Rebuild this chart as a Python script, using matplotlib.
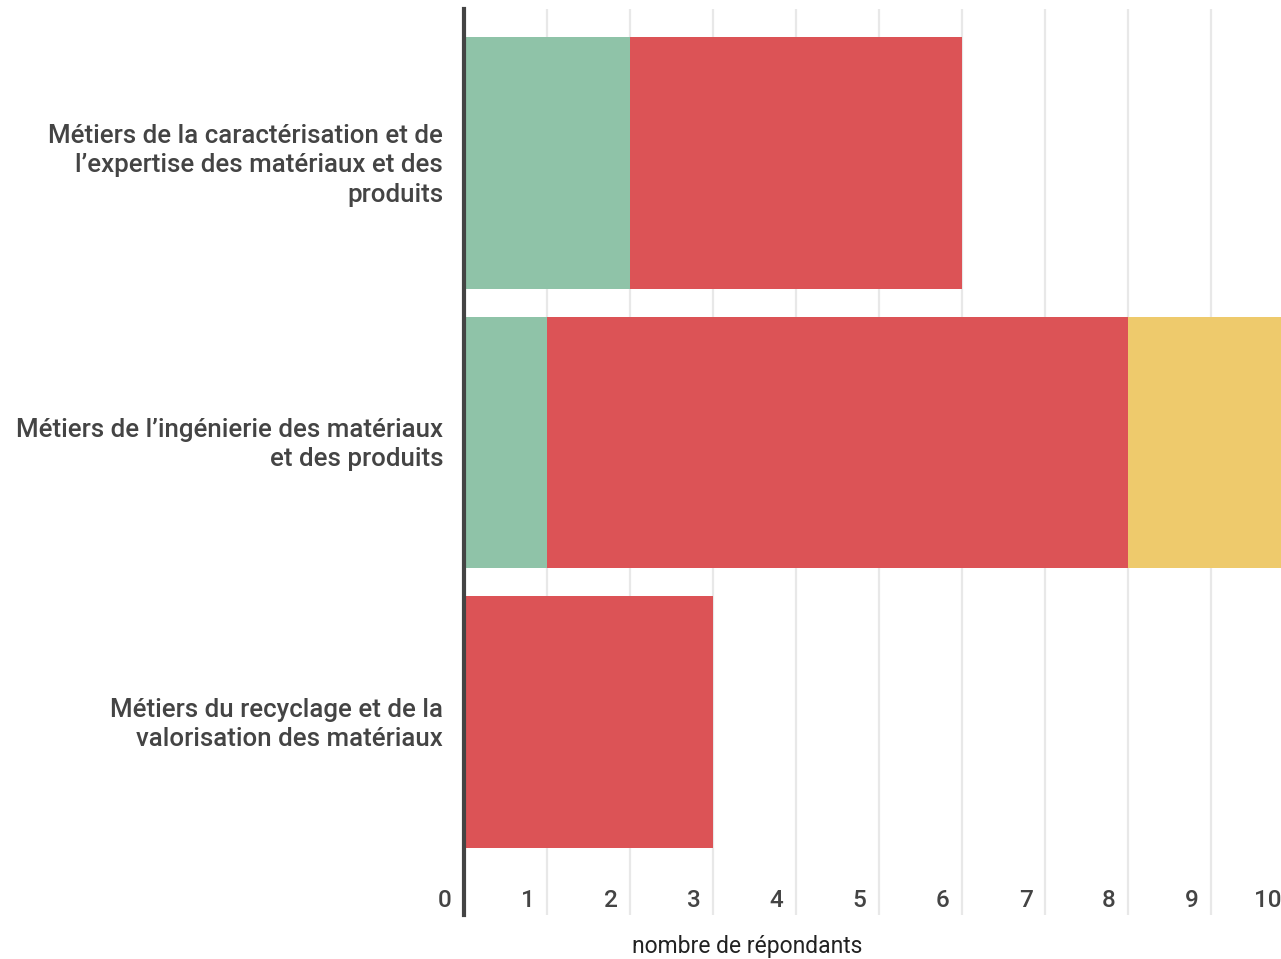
import matplotlib.pyplot as plt
import matplotlib.transforms as mtransforms

plt.rcParams['font.family'] = ['Roboto', 'DejaVu Sans']

# Data
categories = [
    "Métiers de la caractérisation et de\nl’expertise des matériaux et des\nproduits",
    "Métiers de l’ingénierie des matériaux\net des produits",
    "Métiers du recyclage et de la\nvalorisation des matériaux",
]
green_vals = [2, 1, 0]
red_vals = [4, 7, 3]
yellow_vals = [0, 2, 0]
x_ticks = list(range(11))

colors = {'green': '#8fc3a8', 'red': '#dc5356', 'yellow': '#eeca6c'}
text_color = '#444444'

W, H = 1281, 959
fig = plt.figure(figsize=(W / 100, H / 100), dpi=100)
ax = fig.add_axes([464 / W, 1 - 915 / H, 1 - 464 / W, (915 - 9) / H])

y = list(range(len(categories)))
left = [0] * len(categories)
for vals, key in [(green_vals, 'green'), (red_vals, 'red'), (yellow_vals, 'yellow')]:
    ax.barh(y, vals, left=left, height=0.9, color=colors[key], zorder=2)
    left = [l + v for l, v in zip(left, vals)]

ax.set_xlim(0, (W - 464) / 83.0)
ax.set_ylim(2.690, -0.551)

# vertical gridlines
for t in x_ticks[1:]:
    ax.axvline(t, color='#e8e8e8', lw=1.6, zorder=1)

# x tick labels drawn inside the axes, just left of each gridline
offset = mtransforms.offset_copy(ax.get_xaxis_transform(), fig=fig, x=-9, y=0, units='points')
for t in x_ticks:
    ax.text(t, 0.016, str(t), transform=offset, ha='right', va='center',
            fontsize=17.5, fontweight='medium', color=text_color)

ax.set_xticks([])
ax.set_yticks(y)
ax.set_yticklabels(categories, fontsize=18.6, fontweight='medium', color=text_color,
                   ha='right', linespacing=1.28)
ax.tick_params(axis='y', length=0, pad=15)
# nudge category labels up a little
shift = mtransforms.ScaledTranslation(0, 3 / 100, fig.dpi_scale_trans)
for lbl in ax.get_yticklabels():
    lbl.set_transform(lbl.get_transform() + shift)

for s in ['top', 'right', 'bottom']:
    ax.spines[s].set_visible(False)
ax.spines['left'].set_color('#444444')
ax.spines['left'].set_linewidth(3)
ax.spines['left'].set_zorder(3)

fig.text(747 / W, 1 - 946 / H, 'nombre de répondants', ha='center', va='center',
         fontsize=16.5, color='#222222')

fig.savefig('out.png', dpi=100)
